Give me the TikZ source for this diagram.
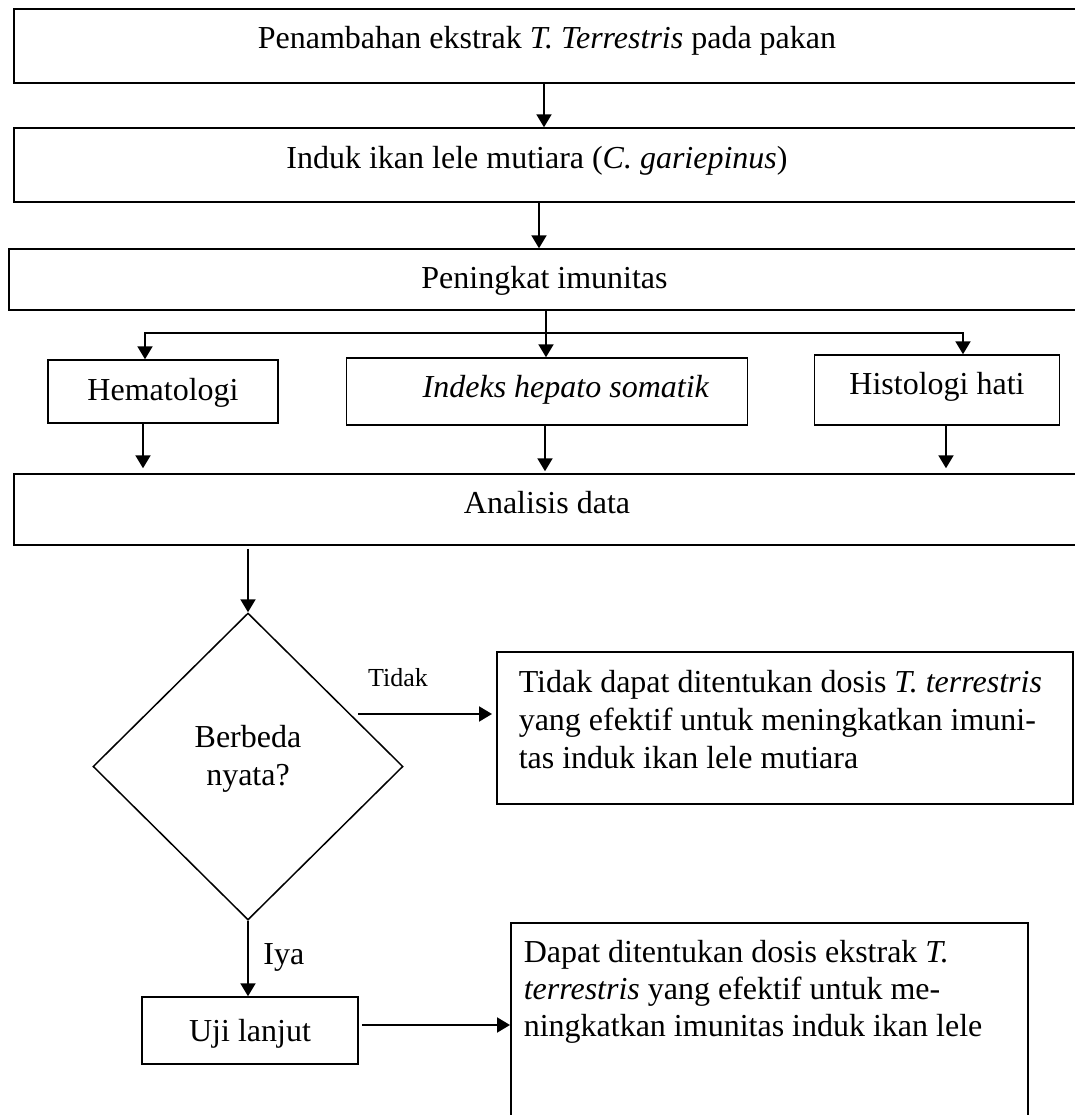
\documentclass[tikz,border=0pt]{standalone}
\usepackage{fontspec}
\setmainfont{Liberation Serif}
\usetikzlibrary{shapes.geometric,arrows.meta}
\begin{document}
\begin{tikzpicture}[x=0.5pt,y=-0.5pt,
  box/.style={draw, line width=0.75pt, inner xsep=0pt, inner ysep=0pt,
    font=\fontsize{16}{19}\selectfont, text height=10.5pt},
  parbox/.style={draw, line width=0.75pt, inner ysep=0pt,
    font=\fontsize{16}{19}\selectfont, anchor=north west},
  arr/.style={-{Triangle[length=6.5pt,width=7.5pt]}, line width=1.05pt},
  lbl/.style={inner sep=0pt}]
\useasboundingbox (0,0) rectangle (1075,1115);

% top boxes
\node[box, minimum width=533pt, minimum height=37pt, text depth=8pt] (b1) at (547,46)
  {Penambahan ekstrak \textit{T. Terrestris} pada pakan};
\node[box, minimum width=533pt, minimum height=37pt, text depth=7.5pt] (b2) at (547,165)
  {\hspace*{-10pt}Induk ikan lele mutiara (\textit{C. gariepinus})};
\node[box, minimum width=535.5pt, minimum height=30.5pt, text depth=1.5pt] (b3) at (544.5,279.5)
  {Peningkat imunitas};

% three parameters
\node[box, minimum width=115pt, minimum height=31.5pt, text depth=2pt] (hem) at (163,391.5)
  {Hematologi};
\node[box, minimum width=200.5pt, minimum height=33.5pt, text depth=4.5pt] (ihs) at (547,391.5)
  {\hspace*{19pt}\textit{Indeks hepato somatik}};
\node[box, minimum width=122.5pt, minimum height=35pt, text depth=6pt] (his) at (937,390)
  {Histologi hati};

\node[box, minimum width=533pt, minimum height=35.5pt, text depth=6.5pt] (ana) at (547,509.5)
  {Analisis data};

% decision
\node[draw, diamond, line width=0.75pt, inner sep=0pt, minimum width=155pt, minimum height=153.5pt,
  font=\fontsize{16}{19}\selectfont, text height=10pt, text depth=29.5pt] (dia) at (248,766.5)
  {\parbox[t]{80pt}{\centering Berbeda\\nyata?}};

\node[parbox, inner xsep=11pt, text height=20.5pt, text depth=55.5pt] (tdk) at (496,651)
  {\parbox[t]{266pt}{\raggedright Tidak dapat ditentukan dosis \textit{T. terrestris}\\
   yang efektif untuk meningkatkan imuni-\\tas induk ikan lele mutiara}};

\node[box, minimum width=108pt, minimum height=33.5pt, text depth=0pt] (uji) at (250,1030.5)
  {Uji lanjut};

\node[parbox, inner xsep=6.5pt, text height=20pt, text depth=81.5pt,
  font=\fontsize{16}{18.5}\selectfont] (dpt) at (510,922)
  {\parbox[t]{245.5pt}{\raggedright Dapat ditentukan dosis ekstrak \textit{T.}\\
   \textit{terrestris} yang efektif untuk me-\\ningkatkan imunitas induk ikan lele}};

% labels
\node[lbl, anchor=base, font=\fontsize{13}{15.6}\selectfont] (ltidak) at (398,686) {Tidak};
\node[lbl, anchor=base west, font=\fontsize{16}{19}\selectfont] (liya) at (263,964) {Iya};

% connectors
\draw[arr] (544,0 |- b1.south) -- (544,0 |- b2.north);
\draw[arr] (539,0 |- b2.south) -- (539,0 |- b3.north);
\draw[arr] (546,0 |- b3.south) -- (546,0 |- ihs.north);
\coordinate (jn) at (546,333);
\draw[arr] (jn) -| (145,0 |- hem.north);
\draw[arr] (jn) -| (963,0 |- his.north);

\draw[arr, shorten >=2.5pt] (143,0 |- hem.south) -- (143,0 |- ana.north);
\draw[arr, shorten >=1pt] (545,0 |- ihs.south) -- (545,0 |- ana.north);
\draw[arr, shorten >=2.5pt] (946,0 |- his.south) -- (946,0 |- ana.north);

\draw[arr, shorten <=1.5pt] (248,0 |- ana.south) -- (dia.north);

\coordinate (ts) at (358,714);
\draw[arr, shorten >=2pt] (ts) -- (ts -| tdk.west);

\draw[arr] (dia.south) -- (dia.south |- uji.north);

\coordinate (uy) at (0,1025);
\draw[arr, shorten <=1.5pt] (uji.east |- uy) -- (dpt.west |- uy);
\end{tikzpicture}
\end{document}
